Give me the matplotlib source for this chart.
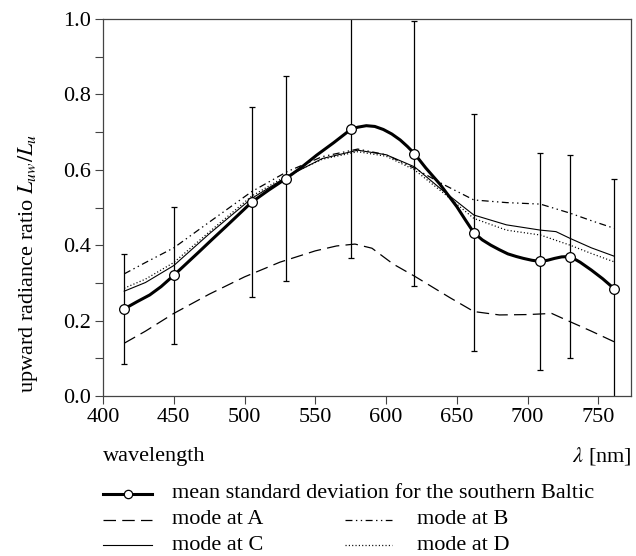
import matplotlib
matplotlib.use("Agg")
import matplotlib.pyplot as plt
from matplotlib.lines import Line2D

plt.rcParams['font.family'] = ['Liberation Serif', 'DejaVu Serif']
plt.rcParams['mathtext.fontset'] = 'stix'
plt.rcParams['lines.scale_dashes'] = False

# measured points (mean for the southern Baltic) with standard deviation
wl_pts = [415, 450, 505, 529, 575, 620, 662, 709, 730, 761]
mean_pts = [0.231, 0.320, 0.514, 0.576, 0.707, 0.643, 0.433, 0.357, 0.370, 0.285]
std_pts = [0.145, 0.182, 0.252, 0.272, 0.342, 0.351, 0.314, 0.287, 0.268, 0.290]

# curve of the mean
wl_mean = [415, 424, 433, 441, 450, 458, 468, 477, 487, 496, 505, 517, 529,
           540, 551, 563, 575, 580, 586, 592, 598, 604, 610, 615, 620, 628,
           638, 644, 650, 656, 662, 668, 674, 680, 686, 692, 697, 703, 709,
           714, 719, 724, 730, 737, 745, 753, 761]
mean_curve = [0.231, 0.250, 0.268, 0.290, 0.320, 0.348, 0.383, 0.415, 0.450,
              0.482, 0.514, 0.546, 0.576, 0.606, 0.639, 0.672, 0.707, 0.713,
              0.717, 0.715, 0.707, 0.695, 0.679, 0.662, 0.643, 0.605, 0.562,
              0.532, 0.502, 0.467, 0.433, 0.414, 0.400, 0.388, 0.377, 0.370,
              0.365, 0.360, 0.357, 0.360, 0.365, 0.369, 0.370, 0.355, 0.334,
              0.311, 0.285]

# modes
wl_a = [415, 430, 450, 475, 500, 525, 550, 565, 578, 590, 605, 620, 645,
        662, 680, 700, 717, 730, 745, 761]
mode_a = [0.140, 0.172, 0.219, 0.270, 0.316, 0.355, 0.385, 0.398, 0.403,
          0.392, 0.350, 0.318, 0.261, 0.224, 0.215, 0.216, 0.219, 0.197,
          0.172, 0.144]

wl_b = [415, 430, 450, 475, 505, 530, 555, 580, 600, 620, 640, 662, 685,
        709, 730, 745, 761]
mode_b = [0.324, 0.354, 0.393, 0.461, 0.542, 0.595, 0.635, 0.655, 0.640,
          0.604, 0.562, 0.520, 0.513, 0.509, 0.485, 0.465, 0.445]

wl_c = [415, 430, 450, 475, 505, 530, 555, 580, 600, 620, 640, 662, 685,
        709, 720, 730, 745, 761]
mode_c = [0.278, 0.301, 0.346, 0.430, 0.524, 0.582, 0.630, 0.652, 0.640,
          0.608, 0.545, 0.480, 0.454, 0.440, 0.436, 0.418, 0.393, 0.371]

wl_d = [415, 430, 450, 475, 505, 530, 555, 580, 600, 620, 640, 662, 685,
        709, 730, 745, 761]
mode_d = [0.286, 0.310, 0.354, 0.435, 0.530, 0.585, 0.628, 0.648, 0.636,
          0.600, 0.540, 0.471, 0.440, 0.427, 0.400, 0.378, 0.356]

style_a = dict(color='k', lw=0.9, linestyle=(0, (9, 4.5)))
style_b = dict(color='k', lw=0.9, linestyle=(0, (5, 2.5, 1, 2.5, 1, 2.5)))
style_c = dict(color='k', lw=0.8, linestyle='-')
style_d = dict(color='k', lw=0.9, linestyle=(0, (0.8, 1.6)))
style_m = dict(color='k', lw=2.2, linestyle='-')
marker_m = dict(marker='o', markersize=7, markerfacecolor='white',
                markeredgecolor='k', markeredgewidth=0.9)

fs = 16

fig = plt.figure(figsize=(6.36, 5.56), dpi=100)
ax = fig.add_axes([103/636, 1 - 396/556, 528/636, 377/556])

ax.plot(wl_a, mode_a, **style_a)
ax.plot(wl_b, mode_b, **style_b)
ax.plot(wl_c, mode_c, **style_c)
ax.plot(wl_d, mode_d, **style_d)
ax.errorbar(wl_pts, mean_pts, yerr=std_pts, fmt='none', ecolor='k',
            elinewidth=0.9, capsize=2.5, capthick=0.9)
ax.plot(wl_mean, mean_curve, solid_joinstyle='round', **style_m)
ax.plot(wl_pts, mean_pts, linestyle='none', zorder=5, **marker_m)

ax.set_xlim(400, 773)
ax.set_ylim(0, 1.0)
ax.set_xticks(range(400, 751, 50))
ax.set_yticks([0.0, 0.2, 0.4, 0.6, 0.8, 1.0])
ax.set_yticks([0.1, 0.3, 0.5, 0.7, 0.9], minor=True)
ax.set_yticklabels(['%.1f' % v for v in ax.get_yticks()])
ax.tick_params(direction='out', length=6, width=0.8, labelsize=fs,
               color='#444444', pad=3)
ax.tick_params(which='minor', direction='out', length=6, width=0.8,
               color='#444444')
for s in ax.spines.values():
    s.set_color('#444444')
    s.set_linewidth(0.9)

fig.text(28/636, 1 - 264/556, r'upward radiance ratio $L_{uw}/L_u$',
         rotation=90, ha='center', va='center', fontsize=fs)
fig.text(103/636, 1 - 456/556, 'wavelength', ha='left', va='center',
         fontsize=fs)
fig.text(632/636, 1 - 456/556, r'$\lambda$ [nm]', ha='right', va='center',
         fontsize=fs)

# legend drawn by hand, two columns below the axes
def handle(x0, x1, y, style, marker=None):
    fig.add_artist(Line2D([x0/636, x1/636], [1 - y/556, 1 - y/556], **style))
    if marker:
        fig.add_artist(Line2D([(x0 + x1)/2/636], [1 - y/556],
                              linestyle='none', **marker))

handle(103, 152, 494, style_m, dict(marker_m, markersize=6))
fig.text(172/636, 1 - 494/556, 'mean standard deviation for the southern Baltic',
         va='center', fontsize=fs)
handle(103, 152, 520, style_a)
fig.text(172/636, 1 - 520/556, 'mode at A', va='center', fontsize=fs)
handle(345, 392, 520, style_b)
fig.text(417/636, 1 - 520/556, 'mode at B', va='center', fontsize=fs)
handle(103, 152, 545, style_c)
fig.text(172/636, 1 - 545/556, 'mode at C', va='center', fontsize=fs)
handle(345, 392, 545, style_d)
fig.text(417/636, 1 - 545/556, 'mode at D', va='center', fontsize=fs)

fig.savefig('out.png', dpi=100)
